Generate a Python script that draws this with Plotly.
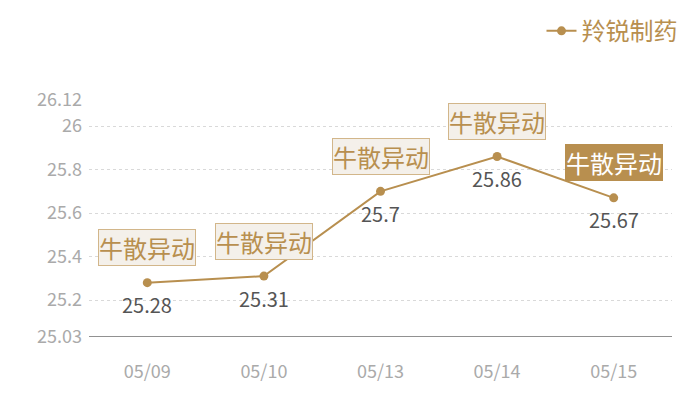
import plotly.graph_objects as go

dates = ["05/09", "05/10", "05/13", "05/14", "05/15"]
prices = [25.28, 25.31, 25.7, 25.86, 25.67]
tags = ["牛散异动", "牛散异动", "牛散异动", "牛散异动", "牛散异动"]
highlight = [False, False, False, False, True]
y_ticks = [25.03, 25.2, 25.4, 25.6, 25.8, 26, 26.12]

gold = "#b88f4f"
font_family = "Noto Sans CJK SC"

fig = go.Figure(
    go.Scatter(
        x=dates,
        y=prices,
        mode="lines+markers",
        name="羚锐制药",
        line=dict(color=gold, width=2),
        marker=dict(color=gold, size=9),
    )
)

# value labels under the points
for d, p in zip(dates, prices):
    fig.add_annotation(
        x=d, y=p, xref="x", yref="y", text=str(p), showarrow=False, yshift=-22,
        font=dict(size=20, color="#555555", family=font_family),
    )

for d, p, t, h in zip(dates, prices, tags, highlight):
    fig.add_annotation(
        x=d, y=p, xref="x", yref="y",
        text=t, showarrow=False, yshift=35,
        font=dict(size=24, color="#ffffff" if h else gold, family=font_family),
        bgcolor=gold if h else "#f4f0ea",
        bordercolor=gold if h else "#d2b68a",
        borderwidth=1, borderpad=0,
    )

# page body has an 8px margin, so the plot area is shifted up/left by 8px
fig.update_layout(
    width=700, height=400,
    margin=dict(l=81, r=36, t=92, b=71, autoexpand=False),
    paper_bgcolor="white", plot_bgcolor="white",
    font=dict(family=font_family),
    showlegend=True,
    legend=dict(
        x=1.018, xanchor="right",
        y=1.385, yanchor="top",
        font=dict(size=24, color=gold), bgcolor="rgba(0,0,0,0)",
    ),
    xaxis=dict(
        type="category", range=[-0.5, 4.5],
        showgrid=False, showline=False, zeroline=False,
        tickfont=dict(size=18, color="#aaaaaa"), ticks="", ticklabelstandoff=22,
    ),
    yaxis=dict(
        range=[25.03, 26.12], tickvals=y_ticks, ticktext=[str(v) for v in y_ticks],
        showgrid=True, gridcolor="#d9d9d9", griddash="dot", gridwidth=1,
        zeroline=False, showline=False,
        tickfont=dict(size=18, color="#aaaaaa"), ticks="", ticklabelstandoff=6,
    ),
)

fig.add_shape(
    type="line", xref="paper", yref="y", x0=0, x1=1, y0=25.03, y1=25.03,
    line=dict(color="#222222", width=1),
)

fig.write_html("out.html")
